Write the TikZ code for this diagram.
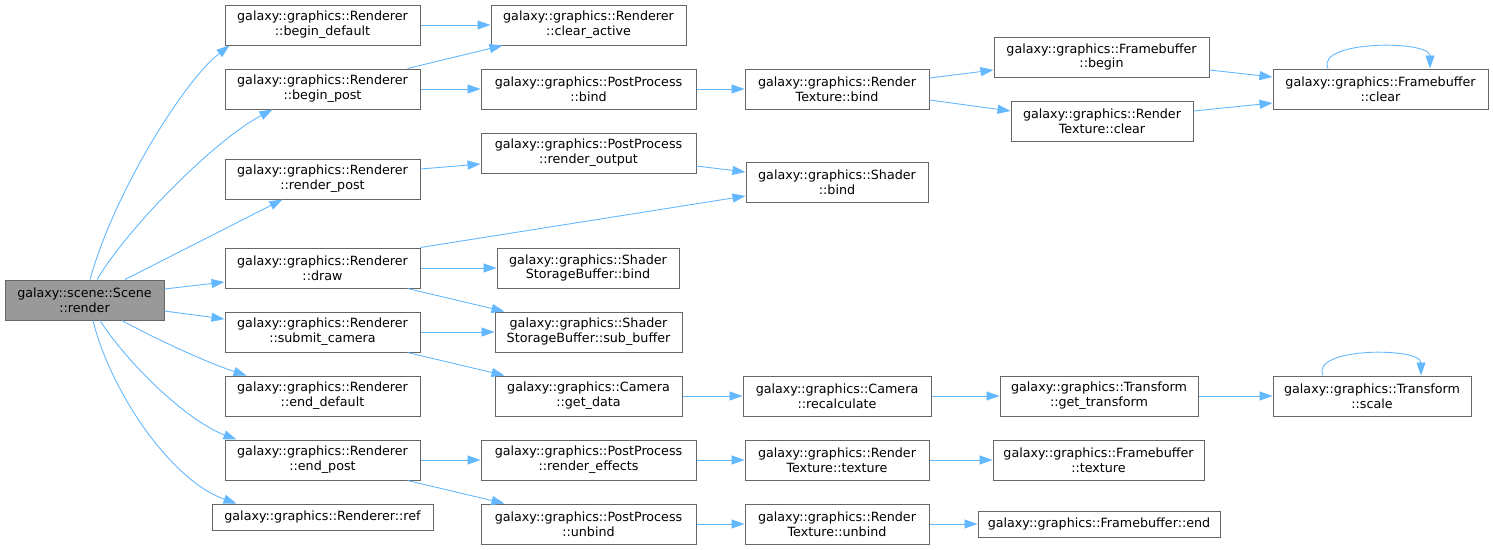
\documentclass[tikz,border=0pt]{standalone}
\usepackage{fontspec}
\setmainfont{DejaVu Sans}
\usetikzlibrary{arrows.meta}

\definecolor{edgeblue}{HTML}{63B8FF}
\definecolor{boxgray}{HTML}{666666}
\definecolor{rootgray}{HTML}{999999}

\tikzset{
  fn/.style={draw=boxgray, line width=1pt, fill=white, minimum height=40pt,
    inner sep=0pt, align=center, font=\fontsize{12.7}{14.7}\selectfont},
  fnroot/.style={fn, fill=rootgray},
  fnflat/.style={fn, minimum height=26pt},
  call/.style={draw=edgeblue, line width=0.9pt, -{Triangle[length=13pt,width=9pt]}},
}

\begin{document}
\begin{tikzpicture}[x=1pt,y=-1pt]
  \useasboundingbox (0,0) rectangle (1493,549);

  % the caller
  \node[fnroot, minimum width=159pt] (root) at (84.5,300) {galaxy::scene::Scene\\::render};

  % Renderer column
  \node[fn, minimum width=195pt] (bdef)   at (322.5,25)  {galaxy::graphics::Renderer\\::begin\_default};
  \node[fn, minimum width=195pt] (bpost)  at (322.5,89)  {galaxy::graphics::Renderer\\::begin\_post};
  \node[fn, minimum width=195pt] (rpost)  at (322.5,179) {galaxy::graphics::Renderer\\::render\_post};
  \node[fn, minimum width=195pt] (rdraw)  at (322.5,268) {galaxy::graphics::Renderer\\::draw};
  \node[fn, minimum width=195pt] (subcam) at (322.5,332) {galaxy::graphics::Renderer\\::submit\_camera};
  \node[fn, minimum width=195pt] (edef)   at (322.5,396) {galaxy::graphics::Renderer\\::end\_default};
  \node[fn, minimum width=195pt] (epost)  at (322.5,460) {galaxy::graphics::Renderer\\::end\_post};
  \node[fnflat, minimum width=221pt] (rref) at (322.5,517) {galaxy::graphics::Renderer::ref};

  % second column
  \node[fn, minimum width=195pt] (cact)    at (588.5,25)  {galaxy::graphics::Renderer\\::clear\_active};
  \node[fn, minimum width=215pt] (ppbind)  at (588.5,89)  {galaxy::graphics::PostProcess\\::bind};
  \node[fn, minimum width=215pt] (ppout)   at (588.5,153) {galaxy::graphics::PostProcess\\::render\_output};
  \node[fn, minimum width=182pt] (ssbbind) at (588,268)   {galaxy::graphics::Shader\\StorageBuffer::bind};
  \node[fn, minimum width=187pt] (ssbsub)  at (588.5,332) {galaxy::graphics::Shader\\StorageBuffer::sub\_buffer};
  \node[fn, minimum width=187pt] (camget)  at (588.5,396) {galaxy::graphics::Camera\\::get\_data};
  \node[fn, minimum width=215pt] (ppfx)    at (588.5,460) {galaxy::graphics::PostProcess\\::render\_effects};
  \node[fn, minimum width=215pt] (ppunb)   at (588.5,524) {galaxy::graphics::PostProcess\\::unbind};

  % third column
  \node[fn, minimum width=184pt] (rtbind) at (837,89)  {galaxy::graphics::Render\\Texture::bind};
  \node[fn, minimum width=182pt] (shbind) at (837,182) {galaxy::graphics::Shader\\::bind};
  \node[fn, minimum width=188pt] (camrec) at (837,396) {galaxy::graphics::Camera\\::recalculate};
  \node[fn, minimum width=184pt] (rttex)  at (837,460) {galaxy::graphics::Render\\Texture::texture};
  \node[fn, minimum width=184pt] (rtunb)  at (837,524) {galaxy::graphics::Render\\Texture::unbind};

  % fourth and fifth columns
  \node[fn, minimum width=215pt] (fbbegin) at (1101.5,57) {galaxy::graphics::Framebuffer\\::begin};
  \node[fn, minimum width=182pt] (rtclear) at (1102,121)  {galaxy::graphics::Render\\Texture::clear};
  \node[fn, minimum width=215pt] (fbclear) at (1380.5,89) {galaxy::graphics::Framebuffer\\::clear};
  \node[fn, minimum width=198pt] (trget)   at (1099,396)  {galaxy::graphics::Transform\\::get\_transform};
  \node[fn, minimum width=198pt] (trscale) at (1372,396)  {galaxy::graphics::Transform\\::scale};
  \node[fn, minimum width=211pt] (fbtex)   at (1098.5,460) {galaxy::graphics::Framebuffer\\::texture};
  \node[fnflat, minimum width=242pt] (fbend) at (1099,524) {galaxy::graphics::Framebuffer::end};

  % calls out of the scene
  \draw[call] ([xshift=5.5pt]root.north) .. controls (115,190) and (185,80) .. ([xshift=5pt]bdef.south west);
  \draw[call] ([xshift=12.5pt]root.north) .. controls (130,225) and (215,140) .. ([xshift=48pt]bpost.south west);
  \draw[call] ([xshift=40.5pt]root.north) -- ([xshift=58pt]rpost.south west);
  \draw[call] ([yshift=11pt]root.east) -- ([yshift=-14pt]rdraw.west);
  \draw[call] ([yshift=-11pt]root.east) -- ([yshift=13pt]subcam.west);
  \draw[call] ([xshift=37.5pt]root.south) .. controls (150,336) and (205,362) .. ([xshift=22pt]edef.north west);
  \draw[call] ([xshift=15.5pt]root.south) .. controls (125,360) and (185,420) .. ([xshift=12pt]epost.north west);
  \draw[call] ([xshift=8.5pt]root.south) .. controls (110,390) and (170,480) .. ([xshift=25pt]rref.north west);

  % renderer calls
  \draw[call] (bdef.east) -- (cact.west);
  \draw[call] ([xshift=-13pt]bpost.north east) -- ([xshift=12pt]cact.south west);
  \draw[call] (bpost.east) -- (ppbind.west);
  \draw[call] ([yshift=10pt]rpost.east) -- ([yshift=-11pt]ppout.west);
  \draw[call] (rdraw.north east) -- ([yshift=-14pt]shbind.west);
  \draw[call] (rdraw.east) -- (ssbbind.west);
  \draw[call] ([xshift=-13pt]rdraw.south east) -- ([xshift=10pt]ssbsub.north west);
  \draw[call] (subcam.east) -- (ssbsub.west);
  \draw[call] ([xshift=-13pt]subcam.south east) -- ([xshift=10pt]camget.north west);
  \draw[call] (epost.east) -- (ppfx.west);
  \draw[call] ([xshift=-13pt]epost.south east) -- ([xshift=24pt]ppunb.north west);

  % second column calls
  \draw[call] (ppbind.east) -- (rtbind.west);
  \draw[call] ([yshift=-13pt]ppout.east) -- ([yshift=10pt]shbind.west);
  \draw[call] (camget.east) -- (camrec.west);
  \draw[call] (ppfx.east) -- (rttex.west);
  \draw[call] (ppunb.east) -- (rtunb.west);

  % third column calls
  \draw[call] ([yshift=11pt]rtbind.east) -- ([yshift=-13pt]fbbegin.west);
  \draw[call] ([yshift=-11pt]rtbind.east) -- ([yshift=10pt]rtclear.west);
  \draw[call] ([yshift=-13pt]fbbegin.east) -- ([yshift=12pt]fbclear.west);
  \draw[call] ([yshift=10pt]rtclear.east) -- ([yshift=-14pt]fbclear.west);
  \draw[call] (camrec.east) -- (trget.west);
  \draw[call] (trget.east) -- (trscale.west);
  \draw[call] (rttex.east) -- (fbtex.west);
  \draw[call] (rtunb.east) -- (fbend.west);

  % recursive calls
  \draw[call] ([xshift=-52.5pt]fbclear.north) .. controls (1315,40) and (1430,40) .. ([xshift=49.5pt]fbclear.north);
  \draw[call] ([xshift=-49pt]trscale.north) .. controls (1310,347) and (1421,347) .. ([xshift=49pt]trscale.north);

\end{tikzpicture}
\end{document}
